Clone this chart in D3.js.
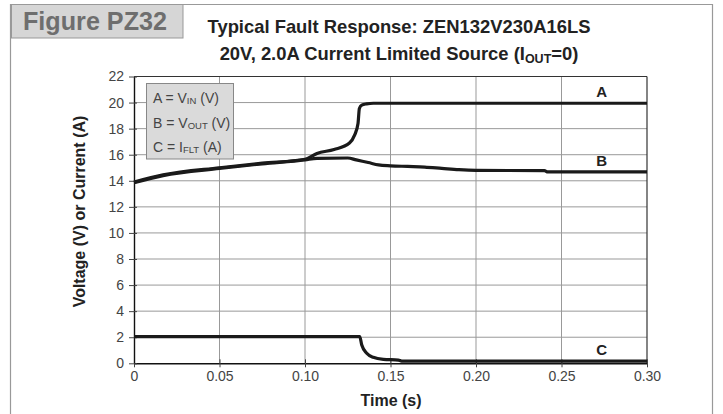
<!DOCTYPE html>
<html><head><meta charset="utf-8">
<script src="https://cdn.jsdelivr.net/npm/d3@7/dist/d3.min.js"></script>
<style>body{margin:0;background:#fff}svg{display:block}</style>
</head><body>
<svg id="c" width="723" height="414"></svg>
<script>
const xTicks = [0, 0.05, 0.10, 0.15, 0.20, 0.25, 0.30];
const xTickLabels = ["0", "0.05", "0.10", "0.15", "0.20", "0.25", "0.30"];
const yTicks = [0, 2, 4, 6, 8, 10, 12, 14, 16, 18, 20, 22];

const tA = [0, 0.017, 0.05, 0.075, 0.1, 0.107, 0.117, 0.126, 0.129, 0.131, 0.1318, 0.1332, 0.136, 0.14, 0.30];
const vA = [13.9, 14.45, 15.0, 15.35, 15.65, 16.1, 16.4, 16.9, 17.5, 18.4, 19.55, 19.8, 19.9, 19.95, 19.95];

const tB = [0, 0.017, 0.05, 0.075, 0.1, 0.107, 0.125, 0.13, 0.137, 0.143, 0.15, 0.16, 0.17, 0.18, 0.19, 0.2, 0.24, 0.242, 0.30];
const vB = [13.85, 14.4, 14.95, 15.3, 15.6, 15.72, 15.75, 15.6, 15.4, 15.22, 15.15, 15.1, 15.05, 14.95, 14.85, 14.8, 14.78, 14.68, 14.68];

const tC = [0, 0.132, 0.1332, 0.1361, 0.1399, 0.1458, 0.1546, 0.1565, 0.30];
const vC = [2.05, 2.05, 1.4, 0.77, 0.46, 0.30, 0.25, 0.17, 0.17];

const seriesNames = ["A", "B", "C"];
const legendLines = [["A = V", "IN", " (V)"], ["B = V", "OUT", " (V)"], ["C = I", "FLT", " (A)"]];

const svg = d3.select("#c");
const F = "'Liberation Sans', Arial, Helvetica, sans-serif";
const L = 134, R = 647, T = 76.5, B = 363.3;
const x = d3.scaleLinear().domain([0, 0.30]).range([L, R]);
const y = d3.scaleLinear().domain([0, 22]).range([B, T]);

// outer frame
svg.append("line").attr("x1", 10.5).attr("x2", 10.5).attr("y1", 4).attr("y2", 414).attr("stroke", "#999").attr("stroke-width", 1.2);
svg.append("line").attr("x1", 712.5).attr("x2", 712.5).attr("y1", 4).attr("y2", 414).attr("stroke", "#999").attr("stroke-width", 1.2);
svg.append("line").attr("x1", 10).attr("x2", 713).attr("y1", 4.5).attr("y2", 4.5).attr("stroke", "#999").attr("stroke-width", 1.2);
svg.append("rect").attr("x", 11.5).attr("y", 4.5).attr("width", 171.5).attr("height", 33.5)
  .attr("fill", "#d6d6d6").attr("stroke", "#999").attr("stroke-width", 1);
svg.append("text").attr("x", 23).attr("y", 30).attr("font-family", F).attr("font-weight", "bold")
  .attr("font-size", 25).attr("fill", "#6e6e6e").attr("textLength", 144).attr("lengthAdjust", "spacingAndGlyphs").text("Figure PZ32");

// title
svg.append("text").attr("x", 399).attr("y", 33).attr("text-anchor", "middle").attr("font-family", F)
  .attr("font-weight", "bold").attr("font-size", 18.4).attr("fill", "#222").text("Typical Fault Response: ZEN132V230A16LS");
const t2 = svg.append("text").attr("x", 399).attr("y", 60).attr("text-anchor", "middle").attr("font-family", F)
  .attr("font-weight", "bold").attr("font-size", 18.4).attr("fill", "#222");
t2.append("tspan").text("20V, 2.0A Current Limited Source (I");
t2.append("tspan").attr("font-size", 12.5).attr("dy", 3).text("OUT");
t2.append("tspan").attr("dy", -3).text("=0)");

// grid
const g = svg.append("g");
g.selectAll(".gx").data(xTicks.slice(1, -1)).join("line")
  .attr("x1", d => x(d)).attr("x2", d => x(d)).attr("y1", T).attr("y2", B)
  .attr("stroke", "#999").attr("stroke-width", 1);
g.selectAll(".gy").data(yTicks.slice(1, -1)).join("line")
  .attr("x1", L).attr("x2", R).attr("y1", d => y(d)).attr("y2", d => y(d))
  .attr("stroke", "#999").attr("stroke-width", 1);
// top / right border
svg.append("line").attr("x1", L).attr("x2", R).attr("y1", T).attr("y2", T).attr("stroke", "#333").attr("stroke-width", 1.2);
svg.append("line").attr("x1", R).attr("x2", R).attr("y1", T).attr("y2", B).attr("stroke", "#333").attr("stroke-width", 1.2);

// axes
const ax = svg.append("g").attr("transform", `translate(0,${B})`)
  .call(d3.axisBottom(x).tickValues(xTicks).tickFormat((d, i) => xTickLabels[i]).tickSizeInner(4).tickSizeOuter(0).tickPadding(4));
ax.selectAll(".tick line").attr("y1", -4);
const ay = svg.append("g").attr("transform", `translate(${L},0)`)
  .call(d3.axisLeft(y).tickValues(yTicks).tickSizeInner(5).tickSizeOuter(0).tickPadding(5));
ay.selectAll(".tick line").attr("x1", 3);
[ax, ay].forEach(a => {
  a.select(".domain").attr("stroke", "#111").attr("stroke-width", 1.4);
  a.selectAll(".tick line").attr("stroke", "#444");
  a.selectAll("text").attr("font-family", F).attr("font-size", 14).attr("fill", "#444");
});

// axis titles
svg.append("text").attr("x", 391).attr("y", 406).attr("text-anchor", "middle").attr("font-family", F)
  .attr("font-weight", "bold").attr("font-size", 16).attr("fill", "#222").text("Time (s)");
svg.append("text").attr("transform", "translate(85,211.5) rotate(-90)").attr("text-anchor", "middle").attr("font-family", F)
  .attr("font-weight", "bold").attr("font-size", 16).attr("fill", "#222").text("Voltage (V) or Current (A)");

// data lines
const line = d3.line().x(d => x(d[0])).y(d => y(d[1])).curve(d3.curveMonotoneX);
const series = [d3.zip(tA, vA), d3.zip(tB, vB), d3.zip(tC, vC)];
svg.selectAll(".s").data(series).join("path")
  .attr("d", line).attr("fill", "none").attr("stroke", "#1a1a1a").attr("stroke-width", 3.2).attr("stroke-linejoin", "round");

// series labels
const labY = [vA[vA.length - 1], vB[vB.length - 1], vC[vC.length - 1]];
svg.selectAll(".lab").data(seriesNames).join("text")
  .attr("x", x(0.2735)).attr("y", (d, i) => y(labY[i]) - 6).attr("text-anchor", "middle")
  .attr("font-family", F).attr("font-weight", "bold").attr("font-size", 15).attr("fill", "#222").text(d => d);

// legend box
svg.append("rect").attr("x", 146.5).attr("y", 83.5).attr("width", 87).attr("height", 75.5)
  .attr("fill", "#dadada").attr("stroke", "#888").attr("stroke-width", 1);
legendLines.forEach((p, i) => {
  const t = svg.append("text").attr("x", 153).attr("y", 103 + i * 24.5).attr("font-family", F)
    .attr("font-size", 14).attr("fill", "#444");
  t.append("tspan").text(p[0]);
  t.append("tspan").attr("font-size", 9.5).attr("dy", 1).text(p[1]);
  t.append("tspan").attr("dy", -1).text(p[2]);
});
</script>
</body></html>
